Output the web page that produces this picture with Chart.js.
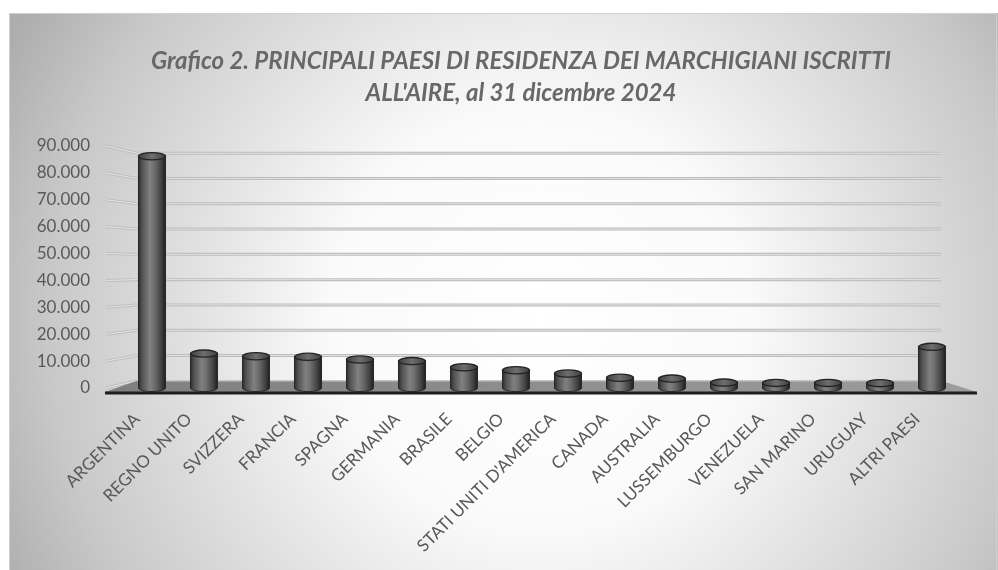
<!DOCTYPE html>
<html>
<head>
<meta charset="utf-8">
<script src="https://cdn.jsdelivr.net/npm/chart.js@4.4.1/dist/chart.umd.min.js"></script>
<style>
  html, body { margin: 0; padding: 0; background: #fff; }
  #wrap { width: 998px; height: 570px; position: relative; }
</style>
</head>
<body>
<div id="wrap"><canvas id="graficoAire"></canvas></div>
<script>
// Dati
const categorie = ['ARGENTINA', 'REGNO UNITO', 'SVIZZERA', 'FRANCIA', 'SPAGNA', 'GERMANIA', 'BRASILE', 'BELGIO',
  "STATI UNITI D'AMERICA", 'CANADA', 'AUSTRALIA', 'LUSSEMBURGO', 'VENEZUELA', 'SAN MARINO', 'URUGUAY', 'ALTRI PAESI'];
const iscritti = [86200, 12800, 11800, 11600, 10600, 10000, 7700, 6600, 5400, 3800, 3500, 2000, 1900, 1900, 1800, 15300];
const tickValori = [0, 10000, 20000, 30000, 40000, 50000, 60000, 70000, 80000, 90000];
const titolo = ['Grafico 2. PRINCIPALI PAESI DI RESIDENZA DEI MARCHIGIANI ISCRITTI', "ALL'AIRE, al 31 dicembre 2024"];

const grigioTesto = '#595959';

function formatta(v) {
  return String(v).replace(/\B(?=(\d{3})+(?!\d))/g, '.');
}

// sfondo sfumato + titolo
const sfondo = {
  id: 'sfondo',
  beforeDraw(chart) {
    const ctx = chart.ctx;
    ctx.save();
    ctx.fillStyle = '#ffffff';
    ctx.fillRect(0, 0, chart.width, chart.height);
    const g = ctx.createRadialGradient(540, 320, 0, 540, 320, 600);
    g.addColorStop(0, '#ffffff');
    g.addColorStop(0.35, '#fafafa');
    g.addColorStop(0.82, '#c8c8c8');
    g.addColorStop(1, '#adadad');
    ctx.fillStyle = g;
    ctx.fillRect(9, 13, chart.width - 9, chart.height - 13);
    ctx.strokeStyle = '#d0d0d0';
    ctx.lineWidth = 1;
    ctx.strokeRect(9.5, 13.5, chart.width - 11, chart.height);

    ctx.font = 'italic bold 24px Lato';
    ctx.fillStyle = '#686868';
    ctx.textAlign = 'center';
    ctx.textBaseline = 'middle';
    ctx.fillText(titolo[0], 521, 61);
    ctx.fillText(titolo[1], 521, 93);
    ctx.restore();
  }
};

// pareti, pavimento e griglia in prospettiva
const pareti = {
  id: 'pareti',
  beforeDatasetsDraw(chart) {
    const ctx = chart.ctx;
    const ys = chart.scales.y;
    const a = chart.chartArea;
    const mid = (a.top + a.bottom) / 2;
    const back = py => mid + (py - mid) * 0.94;
    const xl = a.left + 11, xr = a.right - 17;
    ctx.save();
    tickValori.forEach(v => {
      const py = ys.getPixelForValue(v);
      const pb = back(py);
      // linee sulla parete sinistra
      ctx.beginPath();
      ctx.moveTo(a.left - 20, py);
      ctx.lineTo(xl, pb);
      ctx.strokeStyle = '#bdbdbd';
      ctx.lineWidth = 3;
      ctx.stroke();
      ctx.strokeStyle = '#e6e6e6';
      ctx.lineWidth = 1;
      ctx.stroke();
      if (v > 0) {
        ctx.beginPath();
        ctx.moveTo(xl, pb);
        ctx.lineTo(xr, pb);
        ctx.strokeStyle = '#bcbcbc';
        ctx.lineWidth = 3;
        ctx.stroke();
        ctx.strokeStyle = '#e2e2e2';
        ctx.lineWidth = 1;
        ctx.stroke();
      }
    });
    // pavimento
    const y0 = ys.getPixelForValue(0);
    const yb = back(y0);
    const yf = y0 + 4;
    const gp = ctx.createLinearGradient(a.left, 0, a.right, 0);
    gp.addColorStop(0, '#808080');
    gp.addColorStop(1, '#9c9c9c');
    ctx.beginPath();
    ctx.moveTo(xl, yb);
    ctx.lineTo(xr, yb);
    ctx.lineTo(a.right + 19, yf);
    ctx.lineTo(a.left - 21, yf);
    ctx.closePath();
    ctx.fillStyle = gp;
    ctx.fill();
    ctx.beginPath();
    ctx.moveTo(xl, yb);
    ctx.lineTo(xr, yb);
    ctx.strokeStyle = '#c4c4c4';
    ctx.lineWidth = 1.5;
    ctx.stroke();
    ctx.beginPath();
    ctx.moveTo(a.left - 21, yf + 1);
    ctx.lineTo(a.right + 19, yf + 1);
    ctx.strokeStyle = '#1e1e1e';
    ctx.lineWidth = 3;
    ctx.stroke();
    ctx.restore();
  }
};

// cilindri disegnati sulle barre del grafico
const cilindri = {
  id: 'cilindri',
  afterDatasetsDraw(chart) {
    const ctx = chart.ctx;
    const meta = chart.getDatasetMeta(0);
    ctx.save();
    meta.data.forEach(el => {
      const w = el.width, x = el.x, top = el.y, base = el.base;
      const l = x - w / 2, r = x + w / 2, rx = w / 2, ry = 3.6;
      const g = ctx.createLinearGradient(l, 0, r, 0);
      g.addColorStop(0, '#2a2a2a');
      g.addColorStop(0.12, '#505050');
      g.addColorStop(0.42, '#808080');
      g.addColorStop(0.6, '#6c6c6c');
      g.addColorStop(0.85, '#404040');
      g.addColorStop(1, '#1e1e1e');
      ctx.beginPath();
      ctx.moveTo(l, top);
      ctx.lineTo(l, base);
      ctx.ellipse(x, base, rx, ry, 0, Math.PI, 0, true);
      ctx.lineTo(r, top);
      ctx.closePath();
      ctx.fillStyle = g;
      ctx.fill();
      ctx.strokeStyle = '#2a2a2a';
      ctx.lineWidth = 1;
      ctx.stroke();
      // faccia superiore
      const gt = ctx.createLinearGradient(l, 0, r, 0);
      gt.addColorStop(0, '#404040');
      gt.addColorStop(0.5, '#6e6e6e');
      gt.addColorStop(1, '#404040');
      ctx.beginPath();
      ctx.ellipse(x, top, rx, ry, 0, 0, Math.PI * 2);
      ctx.fillStyle = gt;
      ctx.fill();
      ctx.strokeStyle = '#222222';
      ctx.lineWidth = 1.3;
      ctx.stroke();
    });
    ctx.restore();
  }
};

const ctxGrafico = document.getElementById('graficoAire').getContext('2d');
const grafico = new Chart(ctxGrafico, {
  type: 'bar',
  data: {
    labels: categorie,
    datasets: [{
      label: 'Iscritti AIRE',
      data: iscritti,
      backgroundColor: 'rgba(0,0,0,0)',
      borderWidth: 0,
      categoryPercentage: 1,
      barPercentage: 0.52
    }]
  },
  options: {
    responsive: true,
    maintainAspectRatio: false,
    animation: false,
    layout: { padding: { top: 146, left: 26, right: 40, bottom: 0 } },
    plugins: {
      legend: { display: false },
      title: { display: false },
      tooltip: { enabled: false }
    },
    scales: {
      x: {
        grid: { display: false, drawTicks: false },
        border: { display: false },
        ticks: {
          autoSkip: false,
          minRotation: 45,
          maxRotation: 45,
          padding: 21,
          labelOffset: -15,
          color: grigioTesto,
          font: { family: 'Lato', size: 17 }
        },
        afterFit: s => { s.height = 182; }
      },
      y: {
        min: 0,
        max: 90000,
        afterBuildTicks: s => { s.ticks = tickValori.map(v => ({ value: v })); },
        grid: { display: false, drawTicks: false },
        border: { display: false },
        ticks: {
          padding: 36,
          color: grigioTesto,
          font: { family: 'Lato', size: 17 },
          callback: v => formatta(v)
        },
        afterFit: s => { s.width = 100; }
      }
    }
  },
  plugins: [sfondo, pareti, cilindri]
});
</script>
</body>
</html>
